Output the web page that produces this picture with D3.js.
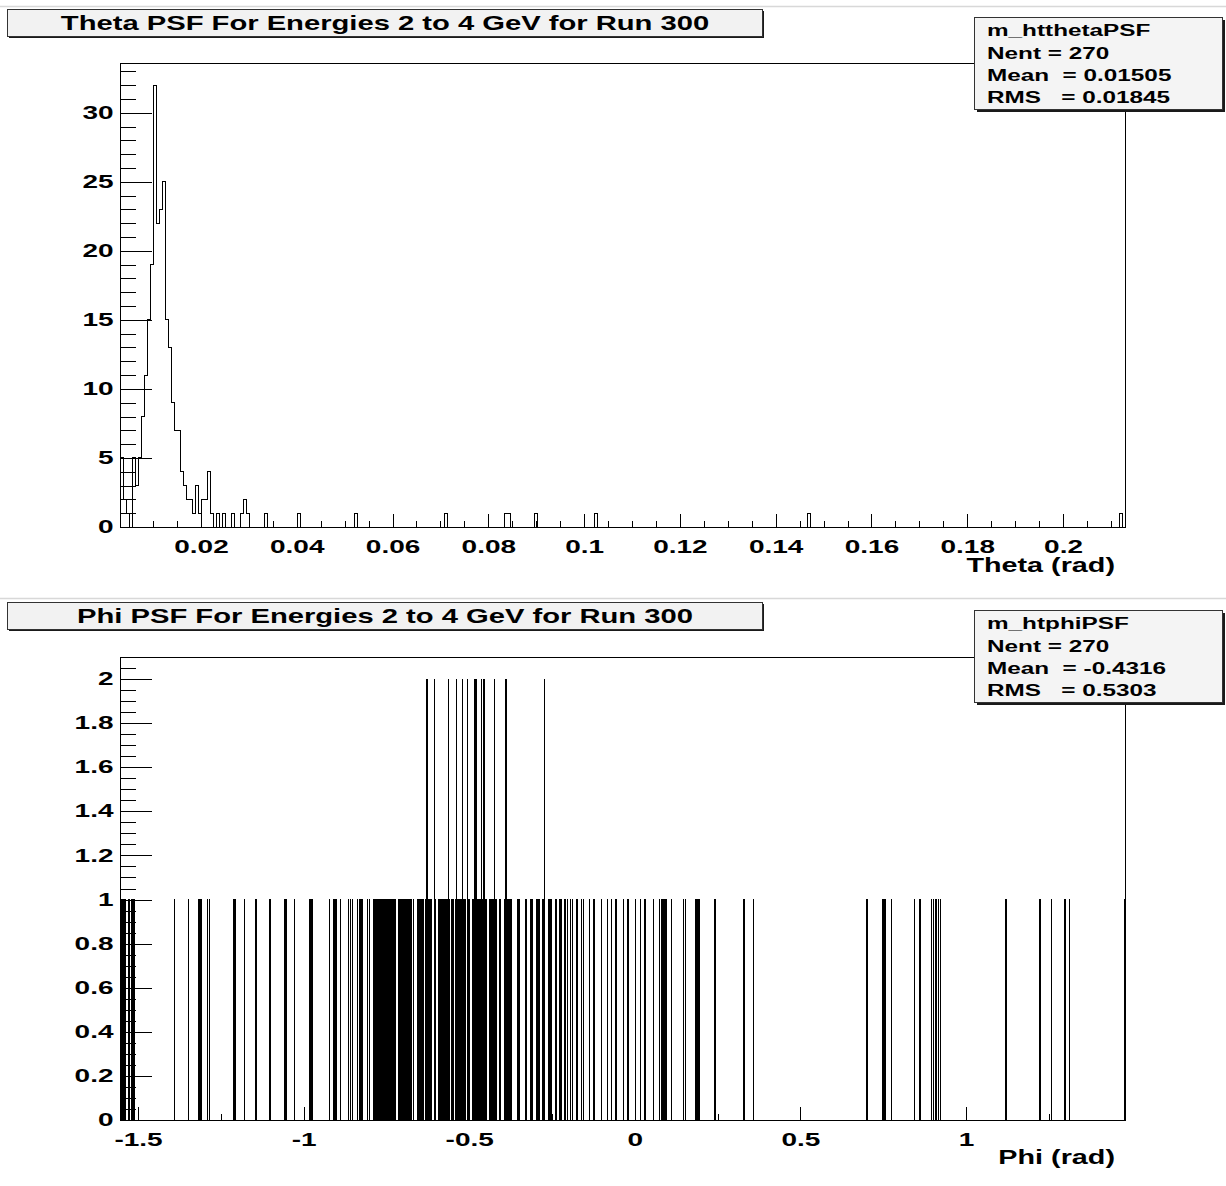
<!DOCTYPE html>
<html>
<head>
<meta charset="utf-8">
<script src="https://cdn.jsdelivr.net/npm/d3@7"></script>
<style>
body { margin: 0; background: #fff; }
text { font-family: "Liberation Sans", Arial, Helvetica, sans-serif; font-weight: bold; fill: #000; white-space: pre; }
</style>
</head>
<body>
<div id="chart"></div>
<script>
// ---- theta histogram (335 bins), first bins read one by one, then the lone tail entries
var thetaRange = [0.00309, 0.21294];
var thetaNBins = 335;
var thetaFirstBins = [5, 2, 1, 0, 5, 3, 5, 8, 11, 15,
  19, 32, 22, 23, 25, 15, 13, 9, 7, 7,
  4, 3, 2, 2, 1, 3, 1, 2, 2, 4,
  1, 0, 1, 0, 1, 0, 0, 1, 0, 0,
  1, 2, 1, 0, 0, 0, 0, 0, 1];
var thetaTail = [0.0404, 0.0523, 0.0711, 0.0836, 0.0842, 0.0899, 0.1024, 0.1469, 0.2120];
var thetaXTicks = [0.02, 0.04, 0.06, 0.08, 0.1, 0.12, 0.14, 0.16, 0.18, 0.2];
var thetaYTicks = [0, 5, 10, 15, 20, 25, 30];
var thetaTitle = "Theta PSF For Energies 2 to 4 GeV for Run 300";
var thetaAxisTitle = "Theta (rad)";
var thetaStats = ["m_htthetaPSF", "Nent = 270", "Mean  = 0.01505", "RMS   = 0.01845"];

// ---- phi histogram (fine bins), one value per filled bin
var phiRange = [-1.5543, 1.4801];
var phiNBins = 4000;
var phiSingles = [
  -1.5513, -1.5453, -1.5393, -1.5272, -1.5181, -1.5121,
  -1.3892, -1.3469, -1.3158, -1.3098, -1.2908, -1.2847, -1.2123, -1.2071, -1.1790, -1.1437,
  -1.1014, -1.0571, -1.0531, -1.0269, -0.9807, -0.9746, -0.9224, -0.9103, -0.9052, -0.9001,
  -0.8880, -0.8638, -0.8578, -0.8518, -0.8367, -0.8297, -0.8237, -0.8056, -0.7995, -0.7896,
  -0.7844, -0.7814, -0.7784, -0.7754, -0.7723, -0.7693, -0.7663, -0.7633, -0.7603, -0.7572,
  -0.7542, -0.7512, -0.7482, -0.7452, -0.7421, -0.7391, -0.7361,
  -0.7301, -0.7270, -0.7240,
  -0.7119, -0.7089, -0.7059, -0.7029, -0.6999, -0.6968, -0.6938, -0.6908, -0.6878, -0.6848,
  -0.6817, -0.6787, -0.6757,
  -0.6682,
  -0.6546, -0.6516, -0.6485, -0.6455, -0.6425, -0.6395,
  -0.6319,
  -0.6214, -0.6183, -0.6153,
  -0.6032,
  -0.5912, -0.5882, -0.5821, -0.5791, -0.5761, -0.5731, -0.5700, -0.5670, -0.5610,
  -0.5519, -0.5489,
  -0.5398, -0.5338, -0.5308, -0.5278, -0.5248, -0.5187, -0.5157, -0.5127,
  -0.5006,
  -0.4915, -0.4885, -0.4855, -0.4795, -0.4734, -0.4704, -0.4674, -0.4644, -0.4583, -0.4523, -0.4493,
  -0.4372, -0.4342, -0.4312, -0.4281, -0.4251, -0.4191,
  -0.4070,
  -0.3919, -0.3859, -0.3829, -0.3799, -0.3768, -0.3738,
  -0.3527, -0.3496,
  -0.3285,
  -0.3134, -0.3104,
  -0.2953, -0.2923, -0.2893,
  -0.2772,
  -0.2591, -0.2560, -0.2530,
  -0.2379,
  -0.2258, -0.2228,
  -0.2108,
  -0.2029, -0.1938, -0.1875, -0.1745, -0.1618, -0.1552, -0.1362, -0.1232, -0.1002, -0.0821,
  -0.0694, -0.0568, -0.0335, -0.0205, 0.0024, 0.0178, 0.0308, 0.0565, 0.0755, 0.0821,
  0.0885, 0.0948, 0.1102, 0.1461, 0.1525, 0.1848, 0.1908, 0.1947, 0.2422, 0.3282,
  0.3321, 0.3578, 0.7014, 0.7491, 0.7554, 0.7748, 0.8451, 0.8617, 0.8964, 0.9028,
  0.9094, 0.9158, 0.9221, 1.1208, 1.2234, 1.2582, 1.2968, 1.3004, 1.3134, 1.4795
];
// bins holding two entries
var phiDoubles = [-0.6274, -0.6054, -0.5631, -0.5377, -0.5208, -0.5045, -0.4825, -0.4774,
  -0.4623, -0.4553, -0.4230, -0.3889, -0.2720];
var phiXTicks = [-1.5, -1, -0.5, 0, 0.5, 1];
var phiYTicks = [0, 0.2, 0.4, 0.6, 0.8, 1, 1.2, 1.4, 1.6, 1.8, 2];
var phiTitle = "Phi PSF For Energies 2 to 4 GeV for Run 300";
var phiAxisTitle = "Phi (rad)";
var phiStats = ["m_htphiPSF", "Nent = 270", "Mean  = -0.4316", "RMS   = 0.5303"];

// ---- build the bin contents
function emptyBins(n) { return d3.range(n).map(function () { return 0; }); }
function binOf(v, range, n) {
  var i = Math.floor((v - range[0]) / (range[1] - range[0]) * n);
  return Math.max(0, Math.min(n - 1, i));
}

var thetaCounts = emptyBins(thetaNBins);
thetaFirstBins.forEach(function (c, i) { thetaCounts[i] = c; });
thetaTail.forEach(function (v) { thetaCounts[binOf(v, thetaRange, thetaNBins)] += 1; });

var phiCounts = emptyBins(phiNBins);
phiSingles.forEach(function (v) { phiCounts[binOf(v, phiRange, phiNBins)] += 1; });
phiDoubles.forEach(function (v) { phiCounts[binOf(v, phiRange, phiNBins)] += 2; });

// ---- page
var width = 1226, height = 1186;
var svg = d3.select("#chart").append("svg")
  .attr("width", width)
  .attr("height", height);
svg.append("rect").attr("width", width).attr("height", height).attr("fill", "#fff");

var fmt = function (d) { return String(+d.toFixed(3)); };

// text is drawn wider than the font, as in the picture
function wideText(g, x, y, str, size, k, anchor) {
  return g.append("text")
    .attr("x", x / k)
    .attr("y", y)
    .attr("transform", "scale(" + k + ",1)")
    .attr("font-size", size)
    .attr("text-anchor", anchor || "start")
    .text(str);
}
function widenAxisText(g, k) {
  g.selectAll("text").each(function () {
    var t = d3.select(this);
    t.attr("x", (+t.attr("x") || 0) / k).attr("transform", "scale(" + k + ",1)");
  });
}

function drawPanel(p) {
  var g = svg.append("g");

  // pad separator
  g.append("line")
    .attr("x1", 0).attr("x2", width)
    .attr("y1", p.sepY).attr("y2", p.sepY)
    .attr("stroke", "#d8d8d8").attr("stroke-width", 1.5);

  var x = d3.scaleLinear().domain(p.range).range([p.left, p.right]);
  var yMax = d3.max(p.counts) * 1.05;
  var y = d3.scaleLinear().domain([0, yMax]).range([p.bottom, p.top]);

  // histogram outline
  var n = p.counts.length;
  var bw = (p.range[1] - p.range[0]) / n;
  var pts = [[p.range[0], 0]];
  p.counts.forEach(function (c, i) {
    pts.push([p.range[0] + i * bw, c]);
    pts.push([p.range[0] + (i + 1) * bw, c]);
  });
  pts.push([p.range[1], 0]);
  g.append("path")
    .datum(pts)
    .attr("fill", "none")
    .attr("stroke", "#000")
    .attr("stroke-width", 1)
    .attr("shape-rendering", "crispEdges")
    .attr("d", d3.line()
      .x(function (d) { return x(d[0]); })
      .y(function (d) { return y(d[1]); }));

  // frame
  g.append("rect")
    .attr("x", p.left + 0.5).attr("y", p.top + 0.5)
    .attr("width", p.right - p.left).attr("height", p.bottom - p.top)
    .attr("fill", "none").attr("stroke", "#000").attr("stroke-width", 1);

  // y axis: minor then major ticks, pointing into the frame
  var yMinor = d3.range(0, yMax, p.yMinorStep).filter(function (v) { return v < yMax - 1e-9; });
  var ya = g.append("g").attr("transform", "translate(" + (p.left + 0.5) + ",0)");
  ya.append("g").call(d3.axisLeft(y).tickValues(yMinor).tickSize(-15.5).tickFormat(""));
  var yMaj = ya.append("g").call(d3.axisLeft(y).tickValues(p.yTicks).tickSize(-31).tickPadding(7).tickFormat(fmt));
  ya.selectAll(".domain").remove();
  yMaj.attr("font-size", 17.5).attr("font-family", null);
  widenAxisText(yMaj, 1.6);

  // x axis
  var xMinor = d3.range(p.xMinorStart, p.range[1], p.xMinorStep);
  var xa = g.append("g").attr("transform", "translate(0," + (p.bottom + 0.5) + ")");
  xa.append("g").call(d3.axisBottom(x).tickValues(xMinor).tickSize(-7).tickFormat(""));
  var xMaj = xa.append("g").call(d3.axisBottom(x).tickValues(p.xTicks).tickSize(-14).tickPadding(13).tickFormat(fmt));
  xa.selectAll(".domain").remove();
  xMaj.attr("font-size", 17.5).attr("font-family", null);
  widenAxisText(xMaj, 1.6);
  g.selectAll(".tick line").attr("stroke", "#000").attr("shape-rendering", "crispEdges");

  // axis title
  wideText(g, p.right - 10, p.axisTitleY, p.axisTitle, 21, 1.37, "end");

  // title box with shadow
  g.append("rect").attr("x", 9).attr("y", p.titleY + 2).attr("width", 755).attr("height", 27).attr("fill", "#1a1a1a");
  g.append("rect").attr("x", 7.5).attr("y", p.titleY + 0.5).attr("width", 755).attr("height", 27)
    .attr("fill", "#f2f2f2").attr("stroke", "#333").attr("stroke-width", 1);
  wideText(g, 385, p.titleY + 21, p.title, 21, 1.39, "middle");

  // stats box with shadow
  g.append("rect").attr("x", 977).attr("y", p.statsY + 3).attr("width", 248).attr("height", 92).attr("fill", "#1a1a1a");
  g.append("rect").attr("x", 974.5).attr("y", p.statsY + 0.5).attr("width", 248).attr("height", 92)
    .attr("fill", "#f4f4f4").attr("stroke", "#333").attr("stroke-width", 1);
  p.stats.forEach(function (s, i) {
    wideText(g, 987, p.statsY + 19.5 + i * 22.2, s, 17, 1.43, "start");
  });
}

drawPanel({
  sepY: 6.5, titleY: 9, statsY: 17,
  left: 120, right: 1125, top: 63, bottom: 527,
  range: thetaRange, counts: thetaCounts,
  xTicks: thetaXTicks, xMinorStart: 0.005, xMinorStep: 0.005,
  yTicks: thetaYTicks, yMinorStep: 1,
  axisTitle: thetaAxisTitle, axisTitleY: 572,
  title: thetaTitle, stats: thetaStats
});

drawPanel({
  sepY: 598.5, titleY: 602, statsY: 610,
  left: 120, right: 1125, top: 657, bottom: 1120,
  range: phiRange, counts: phiCounts,
  xTicks: phiXTicks, xMinorStart: -1.5, xMinorStep: 0.25,
  yTicks: phiYTicks, yMinorStep: 0.05,
  axisTitle: phiAxisTitle, axisTitleY: 1164,
  title: phiTitle, stats: phiStats
});
</script>
</body>
</html>
